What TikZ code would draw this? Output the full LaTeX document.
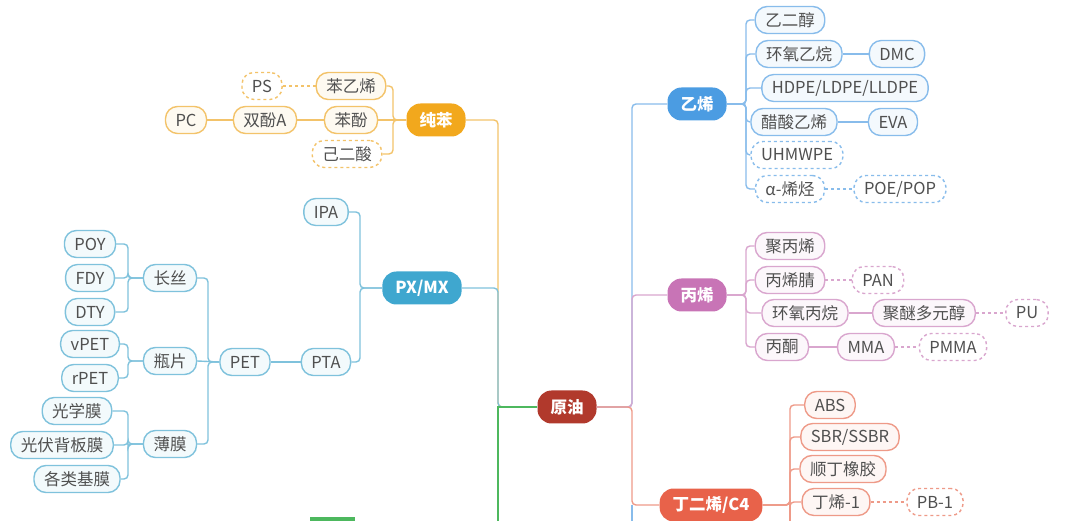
\documentclass[tikz,border=0pt]{standalone}
\usepackage{fontspec}
\setmainfont{Noto Sans CJK SC}
\definecolor{cO}{HTML}{F2A81D}\definecolor{lO}{HTML}{F3C36A}
\definecolor{cB}{HTML}{3FA7CF}\definecolor{lB}{HTML}{7FC2DC}
\definecolor{cE}{HTML}{4B9CE2}\definecolor{lE}{HTML}{88BCEB}
\definecolor{cP}{HTML}{C874B6}\definecolor{lP}{HTML}{D9A6CE}
\definecolor{cR}{HTML}{E8624A}\definecolor{lR}{HTML}{EE9A88}
\definecolor{cOil}{HTML}{B1392C}\definecolor{cG}{HTML}{4DB85E}
\definecolor{txt}{HTML}{505050}
\begin{document}
\begin{tikzpicture}[x=1pt,y=-1pt,
  font=\fontsize{16.5}{18}\selectfont,
  base/.style={rounded corners=12pt,line width=1.4pt,minimum height=27pt,inner xsep=10pt,inner ysep=2pt,text=txt},
  org/.style={base,draw=lO,fill=cO!6},
  blu/.style={base,draw=lB,fill=cB!6},
  eth/.style={base,draw=lE,fill=cE!6},
  pnk/.style={base,draw=lP,fill=cP!6},
  red/.style={base,draw=lR,fill=cR!6},
  dsh/.style={dashed,fill=white},
  hub/.style={rounded corners=14pt,minimum height=33pt,inner xsep=13pt,text=white,font=\fontsize{16.5}{18}\selectfont\bfseries},
  lo/.style={line width=1.4pt,color=lO,rounded corners=4pt},
  lb/.style={line width=1.4pt,color=lB,rounded corners=4pt},
  le/.style={line width=1.4pt,color=lE,rounded corners=4pt},
  lp/.style={line width=1.4pt,color=lP,rounded corners=4pt},
  lr/.style={line width=1.4pt,color=lR,rounded corners=4pt},
]
\useasboundingbox (0,0) rectangle (1080,521);
% hubs
\node[hub,fill=cOil] (oil) at (567,407) {原油};
\node[hub,fill=cO] (bz) at (436,120) {纯苯};
\node[hub,fill=cB] (px) at (422,288) {PX/MX};
\node[hub,fill=cE] (et) at (697,104) {乙烯};
\node[hub,fill=cP] (pr) at (697,295) {丙烯};
\node[hub,fill=cR] (bd) at (711,505) {丁二烯/C4};
% trunk
\draw[lo] (bz.east) -- (498,120) |- (oil.west);
\draw[lb] (px.east) -- (498,288) |- (oil.west);
\draw[line width=1.4pt,cG] (oil.west) -| (498,521);
\draw[le] (oil.east) -- (632,407) |- (et.west);
\draw[lp] (oil.east) -- (632,407) |- (pr.west);
\draw[lr] (oil.east) -- (632,407) |- (bd.west);
\draw[le] (632,505) -- (632,521);
\fill[cG] (310,517) rectangle (355,521);
% benzene
\node[org] (sty) at (351,86) {苯乙烯};
\node[org,dsh] (ps) at (262,86) {PS};
\node[org] (phe) at (351,120) {苯酚};
\node[org] (bpa) at (265,120) {双酚A};
\node[org] (pc) at (186,120) {PC};
\node[org,dsh] (adi) at (347,154) {己二酸};
\draw[lo] (bz.west) -- (393,120) |- (sty.east);
\draw[lo] (bz.west) -- (phe.east);
\draw[lo] (bz.west) -- (393,120) |- (adi.east);
\draw[lo,dashed] (sty.west) -- (ps.east);
\draw[lo] (phe.west) -- (bpa.east);
\draw[lo] (bpa.west) -- (pc.east);
% PX
\node[blu] (ipa) at (326,212) {IPA};
\node[blu] (pta) at (326,362) {PTA};
\node[blu] (pet) at (245,362) {PET};
\node[blu] (cs) at (170,278) {长丝};
\node[blu] (pp) at (170,361) {瓶片};
\node[blu] (bm) at (170,444) {薄膜};
\node[blu] (poy) at (90,244) {POY};
\node[blu] (fdy) at (90,278) {FDY};
\node[blu] (dty) at (90,312) {DTY};
\node[blu] (vp) at (90,344) {vPET};
\node[blu] (rp) at (90,378) {rPET};
\node[blu] (gx) at (77,411) {光学膜};
\node[blu] (gf) at (62,445) {光伏背板膜};
\node[blu] (gl) at (77,479) {各类基膜};
\draw[lb] (px.west) -- (360,288) |- (ipa.east);
\draw[lb] (px.west) -- (360,288) |- (pta.east);
\draw[lb] (pta.west) -- (pet.east);
\draw[lb] (pet.west) -- (208,362) |- (cs.east);
\draw[lb] (pet.west) -- (pp.east);
\draw[lb] (pet.west) -- (208,362) |- (bm.east);
\foreach \c in {poy,fdy,dty} \draw[lb] (cs.west) -- (128,278) |- (\c.east);
\foreach \c in {vp,rp} \draw[lb] (pp.west) -- (128,361) |- (\c.east);
\foreach \c in {gx,gf,gl} \draw[lb] (bm.west) -- (128,444) |- (\c.east);
% ethylene
\node[eth] (e1) at (790,20) {乙二醇};
\node[eth] (e2) at (799,54) {环氧乙烷};
\node[eth] (e3) at (897,54) {DMC};
\node[eth] (e4) at (845,88) {HDPE/LDPE/LLDPE};
\node[eth] (e5) at (794,122) {醋酸乙烯};
\node[eth] (e6) at (893,122) {EVA};
\node[eth,dsh] (e7) at (797,155) {UHMWPE};
\node[eth,dsh] (e8) at (790,189) {α-烯烃};
\node[eth,dsh] (e9) at (900,189) {POE/POP};
\foreach \c in {e1,e2,e4,e5,e7,e8} \draw[le] (et.east) -- (746,104) |- (\c.west);
\draw[le] (e2.east) -- (e3.west);
\draw[le] (e5.east) -- (e6.west);
\draw[le,dashed] (e8.east) -- (e9.west);
% propylene
\node[pnk] (p1) at (790,246) {聚丙烯};
\node[pnk] (p2) at (790,280) {丙烯腈};
\node[pnk,dsh] (p3) at (878,280) {PAN};
\node[pnk] (p4) at (805,313) {环氧丙烷};
\node[pnk] (p5) at (924,313) {聚醚多元醇};
\node[pnk,dsh] (p6) at (1027,313) {PU};
\node[pnk] (p7) at (782,347) {丙酮};
\node[pnk] (p8) at (866,347) {MMA};
\node[pnk,dsh] (p9) at (953,347) {PMMA};
\foreach \c in {p1,p2,p4,p7} \draw[lp] (pr.east) -- (746,295) |- (\c.west);
\draw[lp,dashed] (p2.east) -- (p3.west);
\draw[lp] (p4.east) -- (p5.west);
\draw[lp,dashed] (p5.east) -- (p6.west);
\draw[lp] (p7.east) -- (p8.west);
\draw[lp,dashed] (p8.east) -- (p9.west);
% butadiene
\node[red] (b1) at (830,405) {ABS};
\node[red] (b2) at (850,437) {SBR/SSBR};
\node[red] (b3) at (843,469) {顺丁橡胶};
\node[red] (b4) at (836,502) {丁烯-1};
\node[red,dsh] (b5) at (935,502) {PB-1};
\foreach \c in {b1,b2,b3,b4} \draw[lr] (bd.east) -- (790,505) |- (\c.west);
\draw[lr] (790,505) -- (790,521);
\draw[lr,dashed] (b4.east) -- (b5.west);
\end{tikzpicture}
\end{document}
